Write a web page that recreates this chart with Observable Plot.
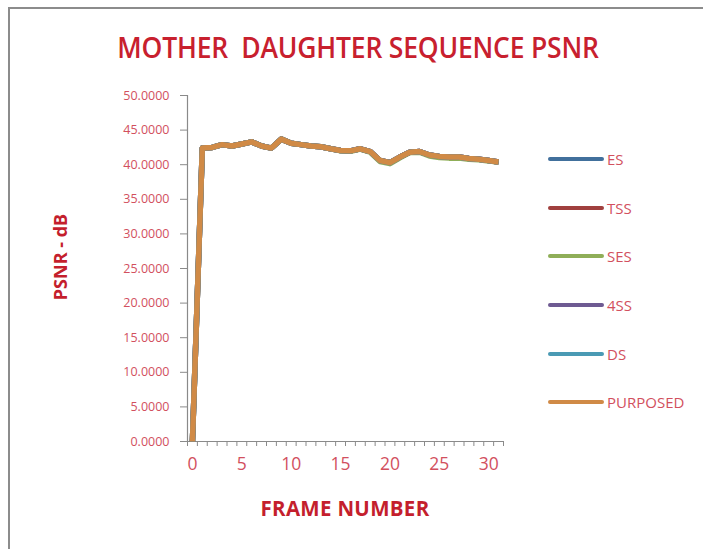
<!DOCTYPE html>
<html>
<head>
<meta charset="utf-8">
<script src="https://cdn.jsdelivr.net/npm/d3@7"></script>
<script src="https://cdn.jsdelivr.net/npm/@observablehq/plot@0.6"></script>
<style>
  html, body { margin: 0; padding: 0; background: #fff; overflow: hidden; }
  #wrap { position: relative; width: 703px; height: 549px; overflow: hidden; font-family: "Open Sans", sans-serif; }
  #border { position: absolute; left: 8px; top: 7px; width: 900px; height: 900px; border: 2px solid #8c8c8c; box-sizing: border-box; }
  #title { position: absolute; left: 358px; top: 47px; transform: translate(-50%, -50%) scaleY(1.1); white-space: pre; color: #c8202e; font-size: 26.5px; font-weight: 600; letter-spacing: -0.2px; }
  #ytitle { position: absolute; left: 60px; top: 257px; transform: translate(-50%, -50%) rotate(-90deg); white-space: pre; color: #c41f2d; font-size: 18px; font-weight: 700; }
  #xtitle { position: absolute; left: 345px; top: 508px; transform: translate(-50%, -50%); white-space: pre; color: #c41f2d; font-size: 20.5px; font-weight: 700; letter-spacing: 0.3px; }
  #legend { position: absolute; left: 548px; top: 149px; }
  .item { display: flex; align-items: center; height: 20px; margin-bottom: 28.7px; }
  .swatch { width: 56px; height: 4px; border-radius: 2px; }
  .lab { margin-left: 3px; color: #d2505e; font-size: 15px; }
  #chart { position: absolute; left: 0; top: 0; }
</style>
</head>
<body>
<div id="wrap">
  <div id="border"></div>
  <div id="chart"></div>
  <div id="title"></div>
  <div id="ytitle"></div>
  <div id="xtitle"></div>
  <div id="legend"></div>
</div>
<script>
const titleText = "MOTHER  DAUGHTER SEQUENCE PSNR";
const yTitle = "PSNR - dB";
const xTitle = "FRAME NUMBER";

const frames = [0,1,2,3,4,5,6,7,8,9,10,11,12,13,14,15,16,17,18,19,20,21,22,23,24,25,26,27,28,29,30,31];
const xTickLabels = [0,5,10,15,20,25,30];
const yTicks = [0,5,10,15,20,25,30,35,40,45,50];

const seriesNames = ["ES","TSS","SES","4SS","DS","PURPOSED"];
const seriesColors = ["#41709c","#a0403e","#8fae58","#6e5a92","#4a9ab4","#d08a46"];

const ES       = [0,42.4,42.5,42.9,42.7,43.0,43.3,42.7,42.4,43.7,43.1,42.9,42.7,42.6,42.3,42.05,42.0,42.3,41.9,40.6,40.3,41.1,41.8,41.9,41.4,41.2,41.1,41.1,40.9,40.8,40.6,40.4];
const TSS      = [0,42.4,42.5,42.9,42.7,43.0,43.3,42.7,42.4,43.7,43.1,42.9,42.7,42.6,42.3,42.05,42.0,42.3,41.9,40.6,40.3,41.1,41.8,41.9,41.4,41.2,41.1,41.1,40.9,40.8,40.6,40.4];
const SES      = [0,42.4,42.5,42.9,42.7,43.0,43.3,42.7,42.4,43.7,43.1,42.9,42.7,42.6,42.3,42.0,41.95,42.25,41.8,40.45,40.15,41.0,41.75,41.8,41.25,41.05,40.95,40.95,40.8,40.7,40.55,40.35];
const FSS      = [0,42.4,42.5,42.9,42.7,43.0,43.3,42.7,42.4,43.7,43.1,42.9,42.7,42.6,42.3,42.05,42.0,42.3,41.9,40.6,40.3,41.1,41.8,41.9,41.4,41.2,41.1,41.1,40.9,40.8,40.6,40.4];
const DS       = [0,42.4,42.5,42.9,42.7,43.0,43.3,42.7,42.4,43.7,43.1,42.9,42.7,42.6,42.3,42.05,42.0,42.3,41.9,40.6,40.3,41.1,41.8,41.9,41.4,41.2,41.1,41.1,40.9,40.8,40.6,40.4];
const PURPOSED = [0,42.4,42.5,42.9,42.7,43.0,43.3,42.7,42.4,43.7,43.1,42.9,42.7,42.6,42.3,42.05,42.0,42.3,41.9,40.6,40.3,41.1,41.8,41.9,41.4,41.2,41.1,41.1,40.9,40.8,40.6,40.4];

const seriesValues = [ES, TSS, SES, FSS, DS, PURPOSED];

const rows = [];
seriesNames.forEach((name, i) => {
  frames.forEach((f, j) => rows.push({series: name, frame: f, value: seriesValues[i][j]}));
});

const xBoundaries = frames.map(f => f - 0.5).concat([frames[frames.length - 1] + 0.5]);
const xDomain = [xBoundaries[0], xBoundaries[xBoundaries.length - 1]];

const tickColor = "#d2505e";
const axisColor = "#8a8a8a";

const chart = Plot.plot({
  width: 703,
  height: 549,
  marginLeft: 187,
  marginRight: 200,
  marginTop: 95,
  marginBottom: 108,
  style: {background: "transparent", fontFamily: "Open Sans, sans-serif"},
  x: {domain: xDomain, axis: null},
  y: {domain: [0, 50], axis: null},
  color: {domain: seriesNames, range: seriesColors},
  marks: [
    Plot.axisY({ticks: yTicks, tickFormat: d3.format(".4f"), tickSize: 7, tickPadding: 11,
      stroke: axisColor, fill: tickColor, fontSize: 12.5, label: null}),
    Plot.axisX({ticks: xBoundaries, tickFormat: () => "", tickSize: 5, stroke: axisColor, label: null}),
    Plot.axisX({ticks: xTickLabels, tickSize: 0, tickPadding: 16, fill: tickColor, fontSize: 17.5, label: null}),
    Plot.ruleX([xDomain[0]], {stroke: axisColor, strokeWidth: 1.2}),
    Plot.ruleY([0], {stroke: axisColor, strokeWidth: 1.2}),
    Plot.line(rows, {x: "frame", y: "value", z: "series", stroke: "series", strokeWidth: 5.5,
      strokeLinejoin: "round", strokeLinecap: "butt"})
  ]
});
document.getElementById("chart").appendChild(chart);

document.getElementById("title").textContent = titleText;
document.getElementById("ytitle").textContent = yTitle;
document.getElementById("xtitle").textContent = xTitle;

const legend = document.getElementById("legend");
seriesNames.forEach((name, i) => {
  const item = document.createElement("div");
  item.className = "item";
  const sw = document.createElement("div");
  sw.className = "swatch";
  sw.style.background = seriesColors[i];
  const lab = document.createElement("span");
  lab.className = "lab";
  lab.textContent = name;
  item.appendChild(sw);
  item.appendChild(lab);
  legend.appendChild(item);
});
</script>
</body>
</html>
